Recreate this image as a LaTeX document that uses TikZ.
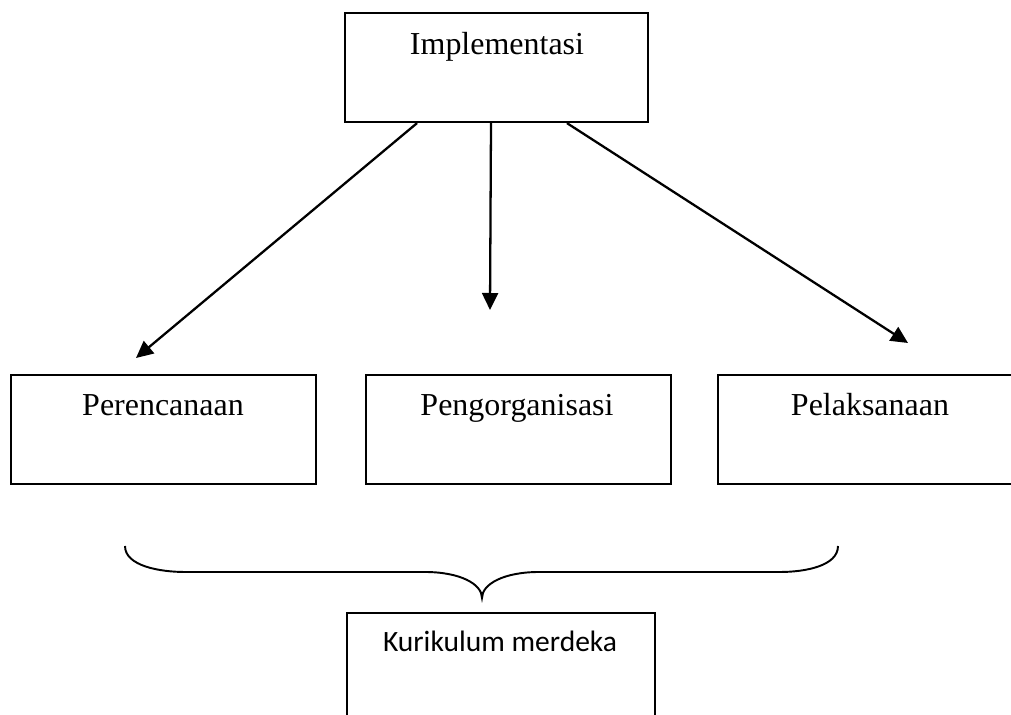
\documentclass[tikz,border=0pt]{standalone}
\usepackage{fontspec}
\setmainfont{Liberation Serif}
\newfontfamily\carlito{Carlito}
\usepackage{tikz}
\usetikzlibrary{positioning,arrows.meta,calc}
\tikzset{
    stage box/.style={rectangle, draw, line width=1.3pt, minimum width=6.1cm, minimum height=2.18cm, inner sep=0pt},
    result box/.style={stage box, line width=1.1pt, minimum width=6.16cm, minimum height=2.44cm},
    box label/.style={anchor=base, inner sep=0pt, font=\fontsize{18.2}{22}\selectfont},
    result label/.style={anchor=base, inner sep=0pt, font=\carlito\fontsize{16.8}{20}\selectfont},
    flow arrow/.style={-{Triangle[length=0.34cm, width=0.32cm]}, line width=1.3pt},
    brace line/.style={line width=1.1pt}
}

\begin{document}
\begin{tikzpicture}[x=0.02cm, y=-0.02cm]
    \useasboundingbox (0,0) rectangle (1011,715);
    \clip (0,0) rectangle (1011,715);

    % Top box
    \node[stage box, minimum width=6.06cm] (impl) at (496.5,67.5) {};
    \node[box label] (impltxt) at (497,55) {Implementasi};

    % Three stages
    \node[stage box] (plan) at (163.5,429.5) {};
    \node[stage box] (org) at (518.5,429.5) {};
    \node[stage box] (exec) at (870.5,429.5) {};
    \node[box label] (plantxt) at (163,416) {Perencanaan};
    \node[box label] (orgtxt) at (517,416) {Pengorganisasi};
    \node[box label] (exectxt) at (870,416) {Pelaksanaan};

    % Arrow ends
    \coordinate (planend) at (136,358);
    \coordinate (orgend) at (490,310);
    \coordinate (execend) at (908,343);

    \draw[flow arrow] ([xshift=-1.59cm]impl.south) -- (planend);
    \draw[flow arrow] ([xshift=-0.11cm]impl.south) -- (orgend);
    \draw[flow arrow] ([xshift=1.41cm]impl.south) -- (execend);

    % Brace
    \coordinate (brleft) at (125,546);
    \coordinate (brtip) at (482,598);
    \coordinate (brright) at (838,546);
    \draw[brace line] (brleft) .. controls (125,566) and (160,572) .. (185,572)
        -- (425,572) .. controls (460,572) and (482,584) .. (brtip)
        .. controls (482,584) and (504,572) .. (539,572)
        -- (780,572) .. controls (805,572) and (838,566) .. (brright);

    % Result
    \node[result box] (kur) at (501,674) {};
    \node[result label] (kurtxt) at (500,652) {Kurikulum merdeka};
\end{tikzpicture}
\end{document}
